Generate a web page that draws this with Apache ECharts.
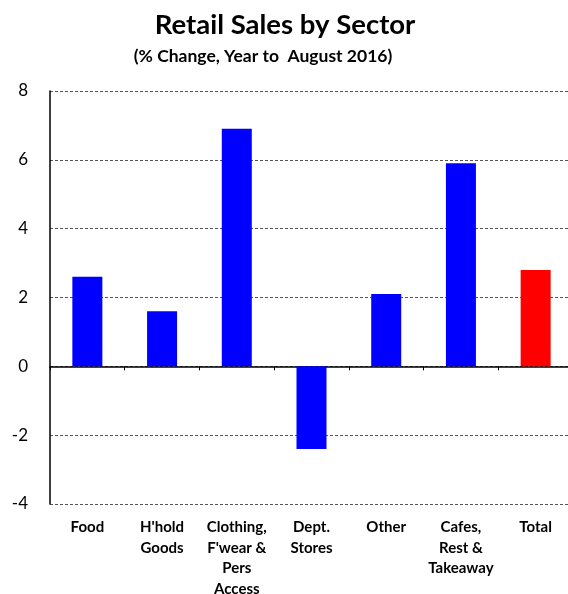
<!DOCTYPE html>
<html><head><meta charset="utf-8">
<script src="https://cdn.jsdelivr.net/npm/echarts@6/dist/echarts.min.js"></script>
<style>html,body{margin:0;padding:0;background:#fff}#c{width:568px;height:594px}</style>
</head><body><div id="c"></div>
<script>
const categories = ["Food", "H'hold\nGoods", "Clothing,\nF'wear &\nPers\nAccess", "Dept.\nStores", "Other", "Cafes,\nRest &\nTakeaway", "Total"];
const values = [2.6, 1.6, 6.9, -2.4, 2.1, 5.9, 2.8];
const barColors = ["#0000FF", "#0000FF", "#0000FF", "#0000FF", "#0000FF", "#0000FF", "#FF0000"];
const yTicks = { min: -4, max: 8, interval: 2 };
const FONT = 'Lato';
const chart = echarts.init(document.getElementById('c'), null, { renderer: 'canvas' });
chart.setOption({
  animation: false,
  backgroundColor: '#fff',
  title: [
    { text: 'Retail Sales by Sector', left: 280, top: 6, textAlign: 'center',
      textStyle: { fontFamily: FONT, fontWeight: 'bold', fontSize: 27.5, color: '#000' } },
    { text: '(% Change, Year to  August 2016)', left: 258, top: 42, textAlign: 'center',
      textStyle: { fontFamily: FONT, fontWeight: 'bold', fontSize: 17.5, color: '#000' } }
  ],
  grid: { left: 50, top: 91, width: 523, height: 413, containLabel: false, outerBoundsMode: 'none' },
  xAxis: [
    { type: 'category', data: categories, position: 'bottom',
      axisLine: { show: true, onZero: true, lineStyle: { color: '#000', width: 1.5 } },
      axisTick: { show: true, length: 4, inside: false, alignWithLabel: false, lineStyle: { color: '#000' } },
      axisLabel: { show: false } },
    { type: 'category', data: categories, position: 'bottom',
      axisLine: { show: false, onZero: false }, axisTick: { show: false },
      axisLabel: { show: true, interval: 0, margin: 13, lineHeight: 20.5,
        fontFamily: FONT, fontWeight: 'bold', fontSize: 15, color: '#000' } }
  ],
  yAxis: {
    type: 'value', min: yTicks.min, max: yTicks.max, interval: yTicks.interval,
    axisLine: { show: true, lineStyle: { color: '#000', width: 1.5 } },
    axisTick: { show: false },
    axisLabel: { margin: 22, fontFamily: FONT, fontSize: 17, color: '#000' },
    splitLine: { show: true, lineStyle: { color: '#555', type: [3, 2], width: 1 } }
  },
  series: [{
    type: 'bar', xAxisIndex: 0, barWidth: 30,
    data: values.map((v, i) => ({ value: v, itemStyle: { color: barColors[i] } }))
  }]
});
</script></body></html>
